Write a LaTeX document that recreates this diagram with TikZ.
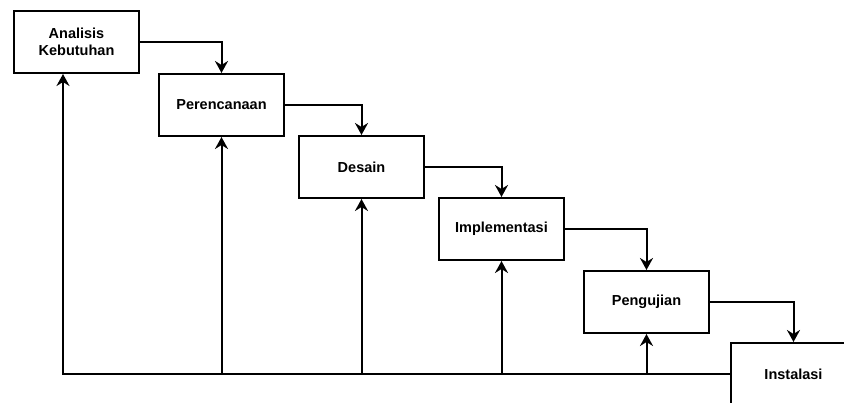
\documentclass[tikz,border=0pt]{standalone}
\usepackage{fontspec}
\setmainfont{Liberation Sans}
\usetikzlibrary{arrows.meta}
\begin{document}
\begin{tikzpicture}[x=1pt,y=-1pt,
  stage/.style={draw=black, line width=2pt, fill=white, minimum width=125pt, minimum height=62pt,
    inner sep=0pt, align=center, font=\bfseries\fontsize{14.5}{17}\selectfont},
  conn/.style={line width=2pt, -{Stealth[length=12pt,width=13pt,inset=4pt]}}]
\useasboundingbox (0,0) rectangle (844,403);
\clip (0,0) rectangle (844,403);
\node[stage] (A) at (76.5,42) {Analisis\\Kebutuhan};
\node[stage] (P) at (221.5,105) {Perencanaan};
\node[stage] (D) at (361.5,167) {Desain};
\node[stage] (I) at (501.5,229) {Implementasi};
\node[stage] (G) at (646.5,302) {Pengujian};
\node[stage] (S) at (793.5,374) {Instalasi};
\draw[conn] (A.east) -| (P.north);
\draw[conn] (P.east) -| (D.north);
\draw[conn] (D.east) -| (I.north);
\draw[conn] (I.east) -| (G.north);
\draw[conn] (G.east) -| (S.north);
\coordinate (fa) at ([xshift=-13.5pt]A.south);
\draw[conn] (S.west) -- (fa |- S.west) -- (fa);
\draw[conn] (P.south |- S.west) -- (P.south);
\draw[conn] (D.south |- S.west) -- (D.south);
\draw[conn] (I.south |- S.west) -- (I.south);
\draw[conn] (G.south |- S.west) -- (G.south);
\end{tikzpicture}
\end{document}
